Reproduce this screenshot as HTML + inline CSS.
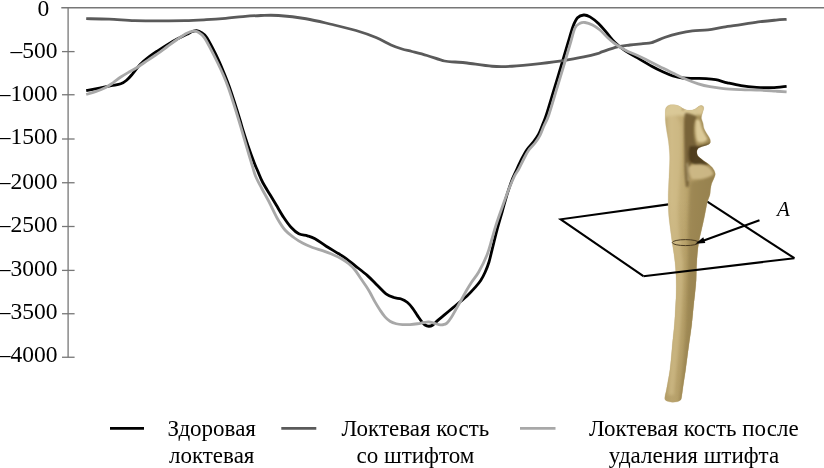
<!DOCTYPE html>
<html lang="ru"><head><meta charset="utf-8"><title>График</title>
<style>html,body{margin:0;padding:0;background:#fff}svg{display:block}</style></head>
<body>
<svg width="824" height="468" viewBox="0 0 824 468">
<defs>
<linearGradient id="boneG" gradientUnits="userSpaceOnUse" x1="662" y1="0" x2="716" y2="0">
<stop offset="0" stop-color="#b9a470"/>
<stop offset="0.18" stop-color="#cbb682"/>
<stop offset="0.4" stop-color="#bfa972"/>
<stop offset="0.62" stop-color="#aa945e"/>
<stop offset="1" stop-color="#9a8450"/>
</linearGradient>
<linearGradient id="boneV" gradientUnits="userSpaceOnUse" x1="0" y1="200" x2="0" y2="300">
<stop offset="0" stop-color="#a38c55" stop-opacity="0"/>
<stop offset="1" stop-color="#a38c55" stop-opacity="0.45"/>
</linearGradient>
<filter id="b3" x="-20%" y="-20%" width="140%" height="140%"><feGaussianBlur stdDeviation="1.6"/></filter>
<filter id="b2" x="-20%" y="-20%" width="140%" height="140%"><feGaussianBlur stdDeviation="1.1"/></filter>
<filter id="b1" x="-20%" y="-20%" width="140%" height="140%"><feGaussianBlur stdDeviation="0.8"/></filter>
</defs>

<rect width="824" height="468" fill="#fff"/>
<g stroke="#777" stroke-width="1.3" fill="none">
<path d="M61.3 7.75H824"/>
<path d="M68.1 7.75V357.25"/>
<path d="M62 51.60H74.6"/>
<path d="M62 94.75H74.6"/>
<path d="M62 139.00H74.6"/>
<path d="M62 182.75H74.6"/>
<path d="M62 226.50H74.6"/>
<path d="M62 270.40H74.6"/>
<path d="M62 313.75H74.6"/>
<path d="M62 357.25H74.6"/>
</g>
<g font-family="'Liberation Serif', serif" font-size="23.5px" fill="#000">
<text x="37.5" y="16.25">0</text>
<text x="57.6" y="57.75" text-anchor="end">–500</text>
<text x="57.6" y="101.25" text-anchor="end">–1000</text>
<text x="57.6" y="144.40" text-anchor="end">–1500</text>
<text x="57.6" y="188.50" text-anchor="end">–2000</text>
<text x="57.6" y="231.75" text-anchor="end">–2500</text>
<text x="57.6" y="275.50" text-anchor="end">–3000</text>
<text x="57.6" y="318.75" text-anchor="end">–3500</text>
<text x="57.6" y="361.90" text-anchor="end">–4000</text>
</g>
<g fill="none" stroke-linecap="butt" stroke-linejoin="round">
<path d="M86.20 90.60 C88.40 90.18 95.25 88.92 99.40 88.10 C103.55 87.28 107.53 86.42 111.10 85.70 C114.67 84.98 118.22 84.70 120.80 83.80 C123.38 82.90 124.67 81.92 126.60 80.30 C128.53 78.68 130.13 76.75 132.40 74.10 C134.67 71.45 137.60 67.15 140.20 64.40 C142.80 61.65 145.08 59.87 148.00 57.60 C150.92 55.33 154.47 52.97 157.70 50.80 C160.93 48.63 164.17 46.55 167.40 44.60 C170.63 42.65 173.87 40.82 177.10 39.10 C180.33 37.38 184.22 35.57 186.80 34.30 C189.38 33.03 190.95 32.10 192.60 31.50 C194.25 30.90 195.20 30.52 196.70 30.70 C198.20 30.88 200.02 31.58 201.60 32.60 C203.18 33.62 204.47 34.42 206.20 36.80 C207.93 39.18 209.80 42.70 212.00 46.90 C214.20 51.10 217.32 57.43 219.40 62.00 C221.48 66.57 222.83 70.13 224.50 74.30 C226.17 78.47 227.70 82.22 229.40 87.00 C231.10 91.78 232.93 97.50 234.70 103.00 C236.47 108.50 238.63 115.50 240.00 120.00 C241.37 124.50 241.58 125.77 242.90 130.00 C244.22 134.23 245.98 139.85 247.90 145.40 C249.82 150.95 252.80 159.12 254.40 163.30 C256.00 167.48 256.11 167.30 257.50 170.50 C258.89 173.70 260.62 178.42 262.75 182.50 C264.88 186.58 268.00 191.25 270.25 195.00 C272.50 198.75 274.00 201.25 276.25 205.00 C278.50 208.75 281.25 213.75 283.75 217.50 C286.25 221.25 288.75 224.79 291.25 227.50 C293.75 230.21 296.04 232.37 298.75 233.75 C301.46 235.13 304.79 234.97 307.50 235.80 C310.21 236.63 311.88 237.01 315.00 238.75 C318.12 240.49 322.29 243.75 326.25 246.25 C330.21 248.75 335.38 251.66 338.75 253.75 C342.12 255.84 343.79 256.82 346.50 258.80 C349.21 260.78 351.50 262.80 355.00 265.60 C358.50 268.40 363.75 272.28 367.50 275.60 C371.25 278.92 374.42 282.47 377.50 285.50 C380.58 288.53 383.29 291.80 386.00 293.80 C388.71 295.80 391.21 296.63 393.75 297.50 C396.29 298.37 398.96 298.17 401.25 299.00 C403.54 299.83 405.62 300.98 407.50 302.50 C409.38 304.02 410.83 305.92 412.50 308.10 C414.17 310.28 415.93 313.30 417.50 315.60 C419.07 317.90 420.65 320.33 421.90 321.90 C423.15 323.47 423.86 324.27 425.00 325.00 C426.14 325.73 427.50 326.21 428.75 326.25 C430.00 326.29 431.04 326.19 432.50 325.25 C433.96 324.31 435.42 322.41 437.50 320.60 C439.58 318.79 442.50 316.48 445.00 314.40 C447.50 312.32 450.00 310.18 452.50 308.10 C455.00 306.02 457.58 303.92 460.00 301.90 C462.42 299.88 464.55 298.33 467.00 296.00 C469.45 293.67 472.42 290.48 474.70 287.90 C476.98 285.32 478.95 283.15 480.70 280.50 C482.45 277.85 483.82 275.08 485.20 272.00 C486.58 268.92 487.85 265.72 489.00 262.00 C490.15 258.28 490.73 255.17 492.10 249.70 C493.47 244.23 495.50 235.60 497.20 229.20 C498.90 222.80 500.60 217.28 502.30 211.30 C504.00 205.32 505.68 198.77 507.40 193.30 C509.12 187.83 511.05 182.47 512.60 178.50 C514.15 174.53 515.17 172.80 516.70 169.50 C518.23 166.20 520.10 162.00 521.80 158.70 C523.50 155.40 524.98 152.47 526.90 149.70 C528.82 146.93 531.37 144.65 533.30 142.10 C535.23 139.55 537.00 137.18 538.50 134.40 C540.00 131.62 541.00 128.63 542.30 125.40 C543.60 122.17 544.35 120.95 546.30 115.00 C548.25 109.05 551.30 98.62 554.00 89.70 C556.70 80.78 560.15 69.37 562.50 61.50 C564.85 53.63 566.33 48.38 568.10 42.50 C569.87 36.62 571.53 30.37 573.10 26.25 C574.67 22.13 575.73 19.68 577.50 17.80 C579.27 15.93 581.67 15.15 583.75 15.00 C585.83 14.85 587.50 15.44 590.00 16.90 C592.50 18.36 595.83 20.94 598.75 23.75 C601.67 26.56 604.79 30.62 607.50 33.75 C610.21 36.88 612.08 39.69 615.00 42.50 C617.92 45.31 621.25 48.03 625.00 50.60 C628.75 53.17 633.05 55.28 637.50 57.90 C641.95 60.52 647.40 63.93 651.70 66.30 C656.00 68.67 659.75 70.48 663.30 72.10 C666.85 73.72 669.77 75.02 673.00 76.00 C676.23 76.98 679.13 77.60 682.70 78.00 C686.27 78.40 690.52 78.30 694.40 78.40 C698.28 78.50 702.45 78.38 706.00 78.60 C709.55 78.82 712.13 79.00 715.70 79.70 C719.27 80.40 723.18 81.80 727.40 82.80 C731.62 83.80 736.15 84.95 741.00 85.70 C745.85 86.45 751.33 86.97 756.50 87.30 C761.67 87.63 766.98 87.87 772.00 87.70 C777.02 87.53 784.17 86.53 786.60 86.30" stroke="#000" stroke-width="2.8"/>
<path d="M86.20 18.70 C90.02 18.77 101.07 18.77 109.10 19.10 C117.13 19.43 126.30 20.42 134.40 20.70 C142.50 20.98 149.28 20.80 157.70 20.80 C166.12 20.80 176.82 20.88 184.90 20.70 C192.98 20.52 199.42 20.10 206.20 19.70 C212.98 19.30 219.47 18.82 225.60 18.30 C231.73 17.78 237.10 17.07 243.00 16.60 C248.90 16.13 255.08 15.68 261.00 15.50 C266.92 15.32 271.00 14.96 278.50 15.50 C286.00 16.04 297.25 17.29 306.00 18.75 C314.75 20.21 322.67 22.29 331.00 24.25 C339.33 26.21 348.50 28.29 356.00 30.50 C363.50 32.71 370.17 35.08 376.00 37.50 C381.83 39.92 386.67 43.08 391.00 45.00 C395.33 46.92 398.50 47.92 402.00 49.00 C405.50 50.08 407.83 50.42 412.00 51.50 C416.17 52.58 421.58 53.92 427.00 55.50 C432.42 57.08 439.83 59.92 444.50 61.00 C449.17 62.08 451.25 61.67 455.00 62.00 C458.75 62.33 460.83 62.29 467.00 63.00 C473.17 63.71 484.50 65.71 492.00 66.25 C499.50 66.79 504.00 66.69 512.00 66.25 C520.00 65.81 531.17 64.58 540.00 63.60 C548.83 62.62 557.71 61.52 565.00 60.40 C572.29 59.28 578.33 58.03 583.75 56.90 C589.17 55.77 594.38 54.47 597.50 53.60 C600.62 52.73 599.17 52.82 602.50 51.70 C605.83 50.58 612.92 48.02 617.50 46.90 C622.08 45.78 625.75 45.55 630.00 45.00 C634.25 44.45 639.38 44.00 643.00 43.60 C646.62 43.20 648.00 43.67 651.70 42.60 C655.40 41.53 660.68 38.75 665.20 37.20 C669.72 35.65 674.27 34.37 678.80 33.30 C683.33 32.23 687.53 31.38 692.40 30.80 C697.27 30.22 702.82 30.42 708.00 29.80 C713.18 29.18 718.00 27.97 723.50 27.10 C729.00 26.23 734.85 25.50 741.00 24.60 C747.15 23.70 754.58 22.45 760.40 21.70 C766.22 20.95 771.53 20.50 775.90 20.10 C780.27 19.70 784.82 19.43 786.60 19.30" stroke="#5a5a5a" stroke-width="2.8"/>
<path d="M86.20 94.50 C87.75 94.02 92.33 92.73 95.50 91.60 C98.67 90.47 102.28 89.17 105.20 87.70 C108.12 86.23 110.40 84.58 113.00 82.80 C115.60 81.02 117.88 78.93 120.80 77.00 C123.72 75.07 127.58 72.92 130.50 71.20 C133.42 69.48 135.38 68.55 138.30 66.70 C141.22 64.85 144.77 62.27 148.00 60.10 C151.23 57.93 154.47 55.97 157.70 53.70 C160.93 51.43 164.17 48.87 167.40 46.50 C170.63 44.13 173.87 41.70 177.10 39.50 C180.33 37.30 184.05 34.68 186.80 33.30 C189.55 31.92 191.67 31.37 193.60 31.20 C195.53 31.03 196.62 31.23 198.40 32.30 C200.18 33.37 202.35 35.00 204.30 37.60 C206.25 40.20 207.90 43.75 210.10 47.90 C212.30 52.05 215.32 58.02 217.50 62.50 C219.68 66.98 221.40 70.63 223.20 74.80 C225.00 78.97 226.57 82.72 228.30 87.50 C230.03 92.28 231.83 98.00 233.60 103.50 C235.37 109.00 237.55 116.08 238.90 120.50 C240.25 124.92 240.48 125.85 241.70 130.00 C242.92 134.15 244.43 139.42 246.20 145.40 C247.97 151.38 250.73 160.76 252.30 165.90 C253.87 171.04 254.00 172.44 255.60 176.25 C257.20 180.06 259.71 184.58 261.90 188.75 C264.09 192.92 266.15 196.25 268.75 201.25 C271.35 206.25 274.79 213.96 277.50 218.75 C280.21 223.54 282.29 226.88 285.00 230.00 C287.71 233.12 290.83 235.32 293.75 237.50 C296.67 239.68 299.38 241.43 302.50 243.10 C305.62 244.77 309.17 246.25 312.50 247.50 C315.83 248.75 319.42 249.56 322.50 250.60 C325.58 251.64 327.92 252.43 331.00 253.75 C334.08 255.07 338.04 256.83 341.00 258.50 C343.96 260.17 346.42 261.83 348.75 263.75 C351.08 265.67 352.96 267.50 355.00 270.00 C357.04 272.50 359.17 276.08 361.00 278.75 C362.83 281.42 364.50 283.71 366.00 286.00 C367.50 288.29 368.50 289.85 370.00 292.50 C371.50 295.15 373.33 298.98 375.00 301.90 C376.67 304.82 378.33 307.50 380.00 310.00 C381.67 312.50 383.33 315.02 385.00 316.90 C386.67 318.77 388.12 320.11 390.00 321.25 C391.88 322.39 394.17 323.19 396.25 323.75 C398.33 324.31 400.21 324.46 402.50 324.60 C404.79 324.74 407.50 324.74 410.00 324.60 C412.50 324.46 415.21 324.10 417.50 323.75 C419.79 323.40 421.88 322.81 423.75 322.50 C425.62 322.19 427.08 321.80 428.75 321.90 C430.42 322.00 432.08 322.65 433.75 323.10 C435.42 323.55 437.19 324.33 438.75 324.60 C440.31 324.88 441.74 325.00 443.10 324.75 C444.46 324.50 445.54 324.31 446.90 323.10 C448.26 321.89 449.69 319.89 451.25 317.50 C452.81 315.11 454.58 311.67 456.25 308.75 C457.92 305.83 459.54 303.04 461.25 300.00 C462.96 296.96 464.76 293.50 466.50 290.50 C468.24 287.50 469.67 285.08 471.70 282.00 C473.73 278.92 476.15 276.52 478.70 272.00 C481.25 267.48 484.82 260.32 487.00 254.90 C489.18 249.48 490.32 244.42 491.80 239.50 C493.28 234.58 494.15 230.82 495.90 225.40 C497.65 219.98 500.17 212.98 502.30 207.00 C504.43 201.02 506.67 194.67 508.70 189.50 C510.73 184.33 512.87 179.33 514.50 176.00 C516.13 172.67 517.00 172.25 518.50 169.50 C520.00 166.75 521.83 162.67 523.50 159.50 C525.17 156.33 526.58 153.25 528.50 150.50 C530.42 147.75 533.08 145.53 535.00 143.00 C536.92 140.47 538.53 138.08 540.00 135.30 C541.47 132.52 542.33 129.68 543.80 126.30 C545.27 122.92 546.68 121.10 548.80 115.00 C550.92 108.90 553.80 98.62 556.50 89.70 C559.20 80.78 562.65 69.37 565.00 61.50 C567.35 53.63 568.93 48.08 570.60 42.50 C572.27 36.92 573.43 31.20 575.00 28.00 C576.57 24.80 578.33 24.22 580.00 23.30 C581.67 22.38 582.92 22.22 585.00 22.50 C587.08 22.78 590.00 23.75 592.50 25.00 C595.00 26.25 597.50 27.92 600.00 30.00 C602.50 32.08 605.00 35.21 607.50 37.50 C610.00 39.79 612.08 41.67 615.00 43.75 C617.92 45.83 621.25 48.02 625.00 50.00 C628.75 51.98 633.05 53.53 637.50 55.60 C641.95 57.67 647.40 60.28 651.70 62.40 C656.00 64.52 659.42 66.35 663.30 68.30 C667.18 70.25 671.12 72.23 675.00 74.10 C678.88 75.97 682.72 77.88 686.60 79.50 C690.48 81.12 694.42 82.60 698.30 83.80 C702.18 85.00 705.70 85.90 709.90 86.70 C714.10 87.50 718.32 88.12 723.50 88.60 C728.68 89.08 734.85 89.33 741.00 89.60 C747.15 89.87 754.58 89.93 760.40 90.20 C766.22 90.47 771.53 90.92 775.90 91.20 C780.27 91.48 784.82 91.78 786.60 91.90" stroke="#a8a8a8" stroke-width="2.8"/>
</g>
<g id="bone">
<g stroke="#000" stroke-width="2.1" fill="none" stroke-linejoin="miter">
<path d="M668.5 204.4L560.7 219.3L643.4 276.2"/>
<path d="M706.5 201.2L794.4 258.2"/>
</g>
<clipPath id="boneClip"><path d="M665.30 114.20 C665.40 112.20 665.18 109.53 665.88 108.00 C666.58 106.47 668.15 105.53 669.50 105.00 C670.85 104.47 672.50 104.67 674.00 104.80 C675.50 104.93 677.00 105.18 678.50 105.80 C680.00 106.42 681.52 107.77 683.00 108.50 C684.48 109.23 685.98 109.92 687.40 110.20 C688.82 110.48 690.22 110.38 691.50 110.20 C692.78 110.02 693.93 109.72 695.10 109.10 C696.27 108.48 697.52 107.10 698.50 106.50 C699.48 105.90 700.20 105.50 701.00 105.50 C701.80 105.50 702.87 105.90 703.30 106.50 C703.73 107.10 703.77 107.93 703.60 109.10 C703.43 110.27 702.65 112.00 702.30 113.50 C701.95 115.00 701.38 116.52 701.50 118.10 C701.62 119.68 702.58 121.30 703.00 123.00 C703.42 124.70 703.50 126.75 704.00 128.30 C704.50 129.85 705.27 131.02 706.00 132.30 C706.73 133.58 707.70 134.80 708.40 136.00 C709.10 137.20 709.87 138.43 710.20 139.50 C710.53 140.57 710.60 141.62 710.40 142.40 C710.20 143.18 709.63 143.73 709.00 144.20 C708.37 144.67 707.57 144.87 706.60 145.20 C705.63 145.53 704.47 145.77 703.20 146.20 C701.93 146.63 700.00 147.17 699.00 147.80 C698.00 148.43 697.55 149.18 697.20 150.00 C696.85 150.82 696.77 151.70 696.90 152.70 C697.03 153.70 697.23 154.93 698.00 156.00 C698.77 157.07 700.30 158.13 701.50 159.10 C702.70 160.07 703.93 160.92 705.20 161.80 C706.47 162.68 707.93 163.48 709.10 164.40 C710.27 165.32 711.33 166.27 712.20 167.30 C713.07 168.33 713.80 169.60 714.30 170.60 C714.80 171.60 715.08 172.43 715.20 173.30 C715.32 174.17 715.28 174.77 715.00 175.80 C714.72 176.83 714.05 178.22 713.50 179.50 C712.95 180.78 712.18 181.92 711.70 183.50 C711.22 185.08 710.90 187.08 710.60 189.00 C710.30 190.92 710.42 192.92 709.90 195.00 C709.38 197.08 708.12 199.37 707.50 201.50 C706.88 203.63 706.75 205.05 706.20 207.80 C705.65 210.55 704.98 214.30 704.20 218.00 C703.42 221.70 702.40 226.00 701.50 230.00 C700.60 234.00 699.50 237.83 698.80 242.00 C698.10 246.17 697.68 250.67 697.30 255.00 C696.92 259.33 696.68 263.83 696.50 268.00 C696.32 272.17 696.45 275.83 696.20 280.00 C695.95 284.17 695.43 288.73 695.00 293.00 C694.57 297.27 694.15 300.27 693.60 305.60 C693.05 310.93 692.42 318.93 691.70 325.00 C690.98 331.07 690.03 336.67 689.30 342.00 C688.57 347.33 687.92 352.35 687.30 357.00 C686.68 361.65 686.22 365.57 685.60 369.90 C684.98 374.23 684.13 379.40 683.60 383.00 C683.07 386.60 682.73 389.17 682.40 391.50 C682.07 393.83 681.90 395.58 681.60 397.00 C681.30 398.42 681.37 399.20 680.60 400.00 C679.83 400.80 678.42 401.43 677.00 401.80 C675.58 402.17 673.68 402.28 672.10 402.20 C670.52 402.12 668.70 401.78 667.50 401.30 C666.30 400.82 665.28 400.35 664.90 399.30 C664.52 398.25 664.98 396.42 665.20 395.00 C665.42 393.58 665.73 393.13 666.20 390.80 C666.67 388.47 667.38 384.48 668.00 381.00 C668.62 377.52 669.35 373.90 669.90 369.90 C670.45 365.90 670.85 361.65 671.30 357.00 C671.75 352.35 672.08 347.33 672.60 342.00 C673.12 336.67 673.90 331.07 674.40 325.00 C674.90 318.93 675.30 310.93 675.60 305.60 C675.90 300.27 676.10 297.27 676.20 293.00 C676.30 288.73 676.35 284.67 676.20 280.00 C676.05 275.33 675.70 269.50 675.30 265.00 C674.90 260.50 674.33 256.83 673.80 253.00 C673.27 249.17 672.70 246.17 672.10 242.00 C671.50 237.83 670.77 232.50 670.20 228.00 C669.63 223.50 669.02 218.78 668.70 215.00 C668.38 211.22 668.35 209.07 668.28 205.30 C668.21 201.53 668.14 197.12 668.26 192.40 C668.38 187.68 668.76 182.55 669.00 177.00 C669.24 171.45 669.65 163.60 669.70 159.10 C669.75 154.60 669.52 152.98 669.30 150.00 C669.08 147.02 668.78 144.03 668.40 141.20 C668.02 138.37 667.42 135.57 667.00 133.00 C666.58 130.43 666.18 127.97 665.90 125.80 C665.62 123.63 665.40 121.93 665.30 120.00 C665.20 118.07 665.20 116.20 665.30 114.20Z"/></clipPath>
<path d="M665.30 114.20 C665.40 112.20 665.18 109.53 665.88 108.00 C666.58 106.47 668.15 105.53 669.50 105.00 C670.85 104.47 672.50 104.67 674.00 104.80 C675.50 104.93 677.00 105.18 678.50 105.80 C680.00 106.42 681.52 107.77 683.00 108.50 C684.48 109.23 685.98 109.92 687.40 110.20 C688.82 110.48 690.22 110.38 691.50 110.20 C692.78 110.02 693.93 109.72 695.10 109.10 C696.27 108.48 697.52 107.10 698.50 106.50 C699.48 105.90 700.20 105.50 701.00 105.50 C701.80 105.50 702.87 105.90 703.30 106.50 C703.73 107.10 703.77 107.93 703.60 109.10 C703.43 110.27 702.65 112.00 702.30 113.50 C701.95 115.00 701.38 116.52 701.50 118.10 C701.62 119.68 702.58 121.30 703.00 123.00 C703.42 124.70 703.50 126.75 704.00 128.30 C704.50 129.85 705.27 131.02 706.00 132.30 C706.73 133.58 707.70 134.80 708.40 136.00 C709.10 137.20 709.87 138.43 710.20 139.50 C710.53 140.57 710.60 141.62 710.40 142.40 C710.20 143.18 709.63 143.73 709.00 144.20 C708.37 144.67 707.57 144.87 706.60 145.20 C705.63 145.53 704.47 145.77 703.20 146.20 C701.93 146.63 700.00 147.17 699.00 147.80 C698.00 148.43 697.55 149.18 697.20 150.00 C696.85 150.82 696.77 151.70 696.90 152.70 C697.03 153.70 697.23 154.93 698.00 156.00 C698.77 157.07 700.30 158.13 701.50 159.10 C702.70 160.07 703.93 160.92 705.20 161.80 C706.47 162.68 707.93 163.48 709.10 164.40 C710.27 165.32 711.33 166.27 712.20 167.30 C713.07 168.33 713.80 169.60 714.30 170.60 C714.80 171.60 715.08 172.43 715.20 173.30 C715.32 174.17 715.28 174.77 715.00 175.80 C714.72 176.83 714.05 178.22 713.50 179.50 C712.95 180.78 712.18 181.92 711.70 183.50 C711.22 185.08 710.90 187.08 710.60 189.00 C710.30 190.92 710.42 192.92 709.90 195.00 C709.38 197.08 708.12 199.37 707.50 201.50 C706.88 203.63 706.75 205.05 706.20 207.80 C705.65 210.55 704.98 214.30 704.20 218.00 C703.42 221.70 702.40 226.00 701.50 230.00 C700.60 234.00 699.50 237.83 698.80 242.00 C698.10 246.17 697.68 250.67 697.30 255.00 C696.92 259.33 696.68 263.83 696.50 268.00 C696.32 272.17 696.45 275.83 696.20 280.00 C695.95 284.17 695.43 288.73 695.00 293.00 C694.57 297.27 694.15 300.27 693.60 305.60 C693.05 310.93 692.42 318.93 691.70 325.00 C690.98 331.07 690.03 336.67 689.30 342.00 C688.57 347.33 687.92 352.35 687.30 357.00 C686.68 361.65 686.22 365.57 685.60 369.90 C684.98 374.23 684.13 379.40 683.60 383.00 C683.07 386.60 682.73 389.17 682.40 391.50 C682.07 393.83 681.90 395.58 681.60 397.00 C681.30 398.42 681.37 399.20 680.60 400.00 C679.83 400.80 678.42 401.43 677.00 401.80 C675.58 402.17 673.68 402.28 672.10 402.20 C670.52 402.12 668.70 401.78 667.50 401.30 C666.30 400.82 665.28 400.35 664.90 399.30 C664.52 398.25 664.98 396.42 665.20 395.00 C665.42 393.58 665.73 393.13 666.20 390.80 C666.67 388.47 667.38 384.48 668.00 381.00 C668.62 377.52 669.35 373.90 669.90 369.90 C670.45 365.90 670.85 361.65 671.30 357.00 C671.75 352.35 672.08 347.33 672.60 342.00 C673.12 336.67 673.90 331.07 674.40 325.00 C674.90 318.93 675.30 310.93 675.60 305.60 C675.90 300.27 676.10 297.27 676.20 293.00 C676.30 288.73 676.35 284.67 676.20 280.00 C676.05 275.33 675.70 269.50 675.30 265.00 C674.90 260.50 674.33 256.83 673.80 253.00 C673.27 249.17 672.70 246.17 672.10 242.00 C671.50 237.83 670.77 232.50 670.20 228.00 C669.63 223.50 669.02 218.78 668.70 215.00 C668.38 211.22 668.35 209.07 668.28 205.30 C668.21 201.53 668.14 197.12 668.26 192.40 C668.38 187.68 668.76 182.55 669.00 177.00 C669.24 171.45 669.65 163.60 669.70 159.10 C669.75 154.60 669.52 152.98 669.30 150.00 C669.08 147.02 668.78 144.03 668.40 141.20 C668.02 138.37 667.42 135.57 667.00 133.00 C666.58 130.43 666.18 127.97 665.90 125.80 C665.62 123.63 665.40 121.93 665.30 120.00 C665.20 118.07 665.20 116.20 665.30 114.20Z" fill="url(#boneG)" stroke="#c9b88c" stroke-width="0.6" stroke-opacity="0.5"/>
<g clip-path="url(#boneClip)">
<rect x="655" y="200" width="60" height="210" fill="url(#boneV)"/>
<g filter="url(#b3)">
<!-- top lit face -->
<path d="M662 118C664 104 672 101 680 104C686 107 692 109 698 106C704 104 706 108 704 112C697 117 690 117 684 116C676 115 668 116 662 118Z" fill="#dccb9a" opacity="0.9"/>
<!-- left body highlight -->
<path d="M668 116C674 114 680 118 681 128C682 150 680 175 678 200C677 220 680 240 683 262C684 300 680 340 674 395L668 395C672 340 676 300 674 262C671 235 668 215 668.5 195C669 170 670 150 668 130Z" fill="#d2be8a" opacity="0.6"/>
<!-- right lower shading -->
<path d="M690 182C700 181 710 178 716 172L712 186C709 200 706 215 703 232C700 250 699 270 698 290C696 320 692 350 688 380L683 402L679 402C683 370 686 330 687 300C688 275 688 255 688 238C688 220 689 200 690 182Z" fill="#937e4c" opacity="0.65"/>
</g>
<g filter="url(#b2)">
<!-- central dark groove between ridge and nose -->
<path d="M685.500 113C689 113 694 115 697 117C695 120 694 124 694 130C694 137 695 142 697 146C695 149 694 153 695 157C692 161 690 166 689.500 172C689.300 176 689.500 181 688.500 187L686 187C685.300 181 684.500 174 684.500 166C684.500 150 684 135 684 125C684 118 684.500 114 685.500 113Z" fill="#735d35" opacity="0.92"/>
<!-- shadow under nose (mouth) -->
<path d="M690 146C697 146.500 706 145.500 711 142.500C709 148 703 150 701 154C701 158 705 161 709 165C702 166.500 693 166 689.500 161C688 155 688.500 149 690 146Z" fill="#4e3b1c" opacity="0.95"/>
</g>
<g filter="url(#b1)">
<!-- nose highlight -->
<path d="M696 120C698 118.500 700.500 120 701 125C702 130 705 134 707.500 139C706 142.500 700 143.500 697.500 141.500C695.500 137 695 127 696 120Z" fill="#dfcd9c" opacity="0.95"/>
<!-- lower protrusion top face -->
<path d="M689 166.500C694 164 701 163.500 706 165.500C710 167.500 713 171 713.500 174.500C708 178 700 180 692 179C690 176 688.500 170 689 166.500Z" fill="#cdb886" opacity="0.95"/>
<path d="M687.300 163L688.300 181" stroke="#e4d5a8" stroke-width="1.1" fill="none" opacity="0.85"/>
<!-- horn highlight -->
<path d="M697 107C699 105 702 105 703 107C703 110 702 113 701 116C699 114 697 111 697 107Z" fill="#dac794" opacity="0.9"/>
<circle cx="683" cy="109.300" r="0.9" fill="#7b5a2a"/>
</g>
</g>
<ellipse cx="685.5" cy="242.6" rx="13.2" ry="3" fill="none" stroke="#3d2f18" stroke-width="0.9"/>
<g stroke="#000" stroke-width="2.1" fill="none">
<path d="M643.4 276.2L794.4 258.2"/>
<path d="M759.5 220.3L699 242.300"/>
</g>
<path d="M695.300 243.700L703.300 237.300L705.300 243.100Z" fill="#000"/>
<text x="777" y="215.800" font-family="'Liberation Serif', serif" font-style="italic" font-size="21px" fill="#000">A</text>
</g>

<g stroke-width="2.8" fill="none">
<path d="M110 428.3H144" stroke="#000"/>
<path d="M281.3 428.3H316.3" stroke="#5a5a5a"/>
<path d="M520 428.3H555.5" stroke="#a8a8a8"/>
</g>
<g font-family="'Liberation Serif', serif" font-size="23px" fill="#000" text-anchor="middle">
<text x="211.7" y="436.3">Здоровая</text>
<text x="211.7" y="462.5">локтевая</text>
<text x="415.4" y="436.3">Локтевая кость</text>
<text x="415.4" y="462.5">со штифтом</text>
<text x="693.8" y="436.3">Локтевая кость после</text>
<text x="694" y="462.5">удаления штифта</text>
</g>
</svg>
</body></html>
